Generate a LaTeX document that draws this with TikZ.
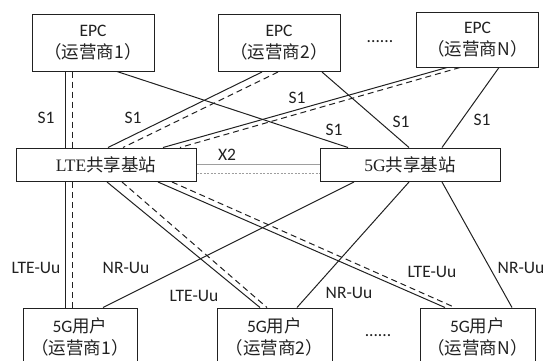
\documentclass[tikz,border=0pt]{standalone}
\usepackage{fontspec}
\setmainfont{Carlito}
\newfontfamily\cjk{Noto Sans CJK SC}
\newfontfamily\tms{Liberation Serif}
\usetikzlibrary{positioning}
\definecolor{mline}{rgb}{0.13, 0.13, 0.13}
\definecolor{mgray}{rgb}{0.62, 0.62, 0.62}
\tikzset{box/.style = {draw, line width = 1pt, inner sep = 0, align = center,
                       minimum width = 122pt, minimum height = 57pt}}
\tikzset{dsh/.style = {dash pattern = on 6pt off 4pt}}

\begin{document}
\begin{tikzpicture}[x=1pt, y=-1pt, line width=1pt, color=mline,
    font=\fontsize{17.5}{22}\selectfont]
    \useasboundingbox (0, 0) rectangle (544, 360);

    \node [box] (epc1) at (93, 42.5) {EPC\\{\cjk （运营商1）}};
    \node [box] (epc2) at (279, 43) {EPC\\{\cjk （运营商2）}};
    \node [box, minimum height=55pt] (epcn) at (477.5, 39.5) {EPC\\{\cjk （运营商N）}};
    \node (dots1) at (380, 42) {......};

    \node [box, minimum width=180pt, minimum height=33.5pt] (lte) at (106, 164.75) {{\tms LTE}{\cjk 共享基站}};
    \node [box, minimum width=180pt, minimum height=33.5pt] (g5) at (410, 164.75) {{\tms 5G}{\cjk 共享基站}};

    \node [box, minimum width=114pt, minimum height=58pt] (ue1) at (80, 337) {5G{\cjk 用户}\\{\cjk （运营商1）}};
    \node [box, minimum width=115pt, minimum height=58pt] (ue2) at (274.5, 337) {5G{\cjk 用户}\\{\cjk （运营商2）}};
    \node [box, minimum width=115pt, minimum height=58pt] (uen) at (477.5, 337) {5G{\cjk 用户}\\{\cjk （运营商N）}};
    \node (dots2) at (378, 336) {......};

    % S1
    \draw ([xshift=-28pt]epc1.south) -- ([xshift=-41pt]lte.north);
    \draw [dsh] ([xshift=-21pt]epc1.south) -- ([xshift=-34pt]lte.north);
    \draw ([xshift=-17pt]epc2.south) -- ([xshift=2pt]lte.north);
    \draw [dsh] ([xshift=-1pt]epc2.south) -- ([xshift=17pt]lte.north);
    \draw ([xshift=-30.5pt]epcn.south) -- ([xshift=57pt]lte.north);
    \draw [dsh] ([xshift=-17.5pt]epcn.south) -- ([xshift=74pt]lte.north);
    \draw ([xshift=24pt]epc1.south) -- ([xshift=-62pt]g5.north);
    \draw ([xshift=43pt]epc2.south) -- ([xshift=-1pt]g5.north);
    \draw ([xshift=21.5pt]epcn.south) -- ([xshift=32pt]g5.north);

    \node (s1a) at (46, 118) {S1};
    \node (s1b) at (133, 118) {S1};
    \node (s1c) at (297, 98) {S1};
    \node (s1d) at (334, 130) {S1};
    \node (s1e) at (401, 122) {S1};
    \node (s1f) at (482, 120) {S1};

    % X2
    \draw [mgray, line width=1.2pt] (lte.east) -- (g5.west);
    \draw [mgray, line width=0.8pt, dash pattern=on 2pt off 1.5pt]
      ([yshift=-8.5pt]lte.east) -- ([yshift=-8.5pt]g5.west);
    \node (x2) at (227, 155) {X2};

    % Uu
    \draw ([xshift=-41pt]lte.south) -- ([xshift=-15pt]ue1.north);
    \draw [dsh] ([xshift=-34pt]lte.south) -- ([xshift=-8pt]ue1.north);
    \draw ([xshift=1pt]lte.south) -- ([xshift=-14.5pt]ue2.north);
    \draw [dsh] ([xshift=16pt]lte.south) -- ([xshift=-7.5pt]ue2.north);
    \draw ([xshift=52pt]lte.south) -- ([xshift=-32.5pt]uen.north);
    \draw [dsh] ([xshift=66pt]lte.south) -- ([xshift=-22.5pt]uen.north);
    \draw ([xshift=-56pt]g5.south) -- ([xshift=23pt]ue1.north);
    \draw ([xshift=-1pt]g5.south) -- ([xshift=22.5pt]ue2.north);
    \draw ([xshift=32pt]g5.south) -- ([xshift=34.5pt]uen.north);

    \node (ltea) at (36, 268) {LTE-Uu};
    \node (nra) at (126, 268) {NR-Uu};
    \node (lteb) at (194, 296) {LTE-Uu};
    \node (nrb) at (349, 293) {NR-Uu};
    \node (ltec) at (432, 272) {LTE-Uu};
    \node (nrc) at (521, 268) {NR-Uu};
\end{tikzpicture}
\end{document}
